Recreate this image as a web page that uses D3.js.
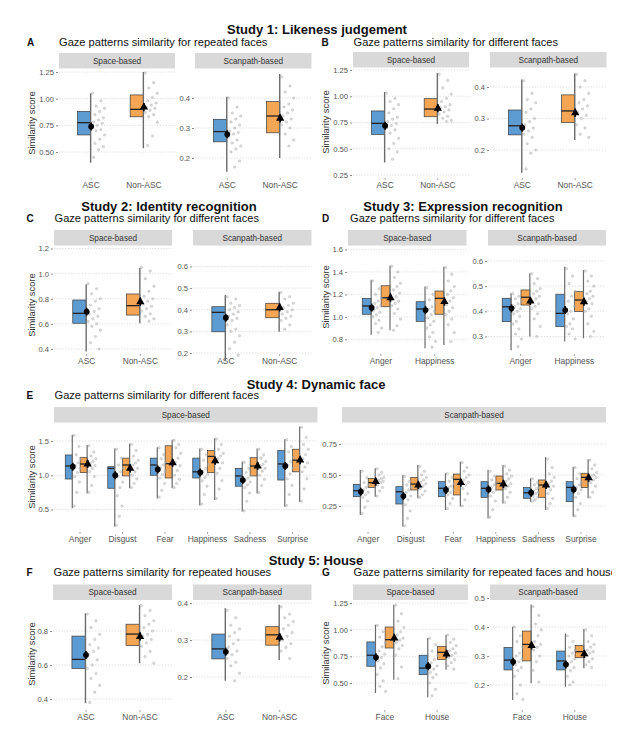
<!DOCTYPE html>
<html>
<head>
<meta charset="utf-8">
<script src="https://cdn.jsdelivr.net/npm/d3@7"></script>
<style>
  body { margin: 0; background: #fff; }
  svg text { font-family: "Liberation Sans", Arial, sans-serif; }
</style>
</head>
<body>
<svg id="fig" width="635" height="729"></svg>
<script>
// categories
const groups = ["ASC", "Non-ASC"];
const emoD = ["Anger", "Happiness"];
const emoE = ["Anger", "Disgust", "Fear", "Happiness", "Sadness", "Surprise"];
const stimG = ["Face", "House"];

// box stats: [min, q1, median, q3, max, mean]; rows = ASC, Non-ASC (per category)
const A_space_stats = [[0.40,0.66,0.775,0.88,1.05,0.74],[0.535,0.83,0.90,1.035,1.25,0.92]];
const A_scan_stats = [[0.154,0.254,0.288,0.329,0.404,0.279],[0.20,0.284,0.34,0.388,0.48,0.332]];
const B_space_stats = [[0.37,0.637,0.742,0.86,1.04,0.72],[0.736,0.805,0.878,0.977,1.22,0.885]];
const B_scan_stats = [[0.128,0.248,0.277,0.327,0.424,0.271],[0.232,0.287,0.324,0.375,0.443,0.318]];
const C_space_stats = [[0.38,0.605,0.684,0.79,0.915,0.697],[0.605,0.67,0.745,0.838,1.047,0.776]];
const C_scan_stats = [[0.165,0.298,0.388,0.414,0.468,0.363],[0.298,0.363,0.40,0.43,0.483,0.41]];
const D_space_stats = [[0.84,1.023,1.097,1.165,1.33,1.082],[0.88,1.09,1.17,1.277,1.456,1.17],
  [0.72,0.96,1.07,1.135,1.27,1.06],[0.75,1.023,1.165,1.23,1.447,1.135]];
const D_scan_stats = [[0.245,0.359,0.418,0.452,0.472,0.412],[0.30,0.425,0.456,0.485,0.551,0.441],
  [0.28,0.339,0.392,0.468,0.577,0.405],[0.293,0.399,0.445,0.478,0.564,0.438]];
const E_space_stats = [
  [0.52,0.945,1.135,1.296,1.59,1.125],[0.735,1.038,1.164,1.262,1.44,1.164],
  [0.25,0.81,1.10,1.125,1.39,1.0],[0.81,0.99,1.15,1.25,1.465,1.10],
  [0.66,1.0,1.15,1.25,1.41,1.085],[0.81,0.96,1.17,1.43,1.52,1.18],
  [0.56,0.96,1.05,1.25,1.39,1.04],[0.64,1.04,1.275,1.36,1.54,1.21],
  [0.47,0.84,0.99,1.10,1.20,0.93],[0.735,0.99,1.135,1.256,1.39,1.135],
  [0.54,0.93,1.165,1.36,1.525,1.135],[0.61,1.05,1.22,1.38,1.71,1.22]];
const E_scan_stats = [
  [0.177,0.325,0.373,0.425,0.54,0.365],[0.325,0.40,0.438,0.473,0.554,0.446],
  [0.083,0.266,0.365,0.406,0.50,0.33],[0.312,0.379,0.427,0.481,0.58,0.419],
  [0.218,0.325,0.393,0.446,0.514,0.379],[0.245,0.339,0.465,0.508,0.607,0.438],
  [0.15,0.32,0.393,0.446,0.54,0.384],[0.27,0.379,0.433,0.492,0.58,0.427],
  [0.285,0.312,0.357,0.398,0.473,0.357],[0.218,0.32,0.419,0.46,0.643,0.419],
  [0.164,0.285,0.40,0.446,0.567,0.384],[0.312,0.398,0.481,0.514,0.627,0.478]];
const F_space_stats = [[0.375,0.58,0.633,0.77,0.904,0.659],[0.61,0.714,0.782,0.84,0.953,0.767]];
const F_scan_stats = [[0.19,0.249,0.276,0.316,0.386,0.268],[0.246,0.286,0.314,0.336,0.395,0.307]];
const G_space_stats = [[0.406,0.657,0.76,0.885,1.047,0.741],[0.53,0.828,0.906,1.025,1.234,0.922],
  [0.366,0.578,0.64,0.76,0.922,0.657],[0.625,0.719,0.788,0.844,0.953,0.772]];
const G_scan_stats = [[0.148,0.252,0.286,0.329,0.401,0.28],[0.206,0.283,0.34,0.386,0.478,0.336],
  [0.194,0.252,0.283,0.317,0.378,0.271],[0.258,0.294,0.315,0.336,0.393,0.307]];

// individual participant scores (same row order as the stats)
const A_space_pts = [[1.05,0.98,0.93,0.91,0.88,0.85,0.82,0.80,0.78,0.77,0.75,0.73,0.71,0.70,0.66,0.62,0.58,0.55,0.52,0.45],
  [1.24,1.15,1.10,1.05,1.01,0.98,0.96,0.94,0.92,0.91,0.89,0.87,0.85,0.83,0.78,0.65,0.56]];
const A_scan_pts = [[0.40,0.37,0.35,0.34,0.33,0.32,0.31,0.30,0.29,0.285,0.28,0.27,0.26,0.25,0.24,0.23,0.22,0.19,0.17],
  [0.47,0.44,0.42,0.40,0.38,0.37,0.36,0.35,0.34,0.33,0.32,0.31,0.30,0.28,0.26,0.24]];
const B_space_pts = [[1.03,0.98,0.95,0.92,0.88,0.84,0.80,0.78,0.76,0.74,0.72,0.70,0.68,0.65,0.60,0.55,0.50,0.47,0.40],
  [1.21,1.15,1.08,1.02,0.98,0.95,0.92,0.90,0.89,0.87,0.85,0.83,0.81,0.79,0.77,0.76]];
const B_scan_pts = [[0.42,0.38,0.36,0.35,0.33,0.32,0.30,0.29,0.28,0.27,0.26,0.25,0.24,0.22,0.20,0.19,0.14],
  [0.44,0.42,0.40,0.38,0.36,0.35,0.34,0.33,0.32,0.31,0.30,0.28,0.27,0.25,0.24]];
const C_space_pts = [[0.92,0.88,0.84,0.80,0.78,0.75,0.72,0.70,0.68,0.66,0.64,0.62,0.60,0.58,0.55,0.50,0.45,0.40],
  [1.05,1.02,0.96,0.90,0.86,0.82,0.80,0.78,0.76,0.74,0.72,0.70,0.68,0.66,0.64,0.62]];
const C_scan_pts = [[0.46,0.45,0.43,0.42,0.41,0.40,0.39,0.38,0.37,0.36,0.35,0.33,0.31,0.30,0.28,0.25,0.22,0.19],
  [0.48,0.46,0.45,0.43,0.42,0.41,0.40,0.39,0.38,0.37,0.36,0.35,0.33,0.31]];
const D_space_pts = [
  [1.32,1.25,1.20,1.17,1.14,1.12,1.10,1.08,1.06,1.04,1.02,1.00,0.97,0.94,0.90,0.86],
  [1.45,1.40,1.35,1.30,1.27,1.24,1.21,1.18,1.16,1.14,1.12,1.10,1.07,1.03,0.98,0.92,0.88],
  [1.26,1.20,1.15,1.12,1.09,1.07,1.05,1.02,0.99,0.96,0.93,0.90,0.86,0.82,0.78,0.73],
  [1.44,1.38,1.32,1.27,1.23,1.20,1.17,1.14,1.11,1.08,1.05,1.02,0.98,0.93,0.86,0.78]];
const D_scan_pts = [
  [0.47,0.46,0.45,0.44,0.43,0.42,0.41,0.40,0.39,0.38,0.36,0.35,0.33,0.31,0.29,0.26],
  [0.55,0.53,0.51,0.49,0.48,0.47,0.46,0.45,0.44,0.43,0.42,0.41,0.39,0.37,0.34,0.30],
  [0.57,0.54,0.51,0.48,0.46,0.44,0.42,0.40,0.39,0.37,0.35,0.34,0.33,0.31,0.29],
  [0.56,0.54,0.52,0.50,0.48,0.47,0.46,0.45,0.44,0.43,0.41,0.40,0.38,0.35,0.32,0.30]];
const E_space_pts = [
  [1.58,1.42,1.30,1.24,1.18,1.14,1.10,1.04,0.98,0.90,0.75,0.55],
  [1.43,1.34,1.28,1.24,1.20,1.17,1.14,1.10,1.05,0.98,0.85,0.75],
  [1.38,1.25,1.15,1.10,1.05,0.98,0.90,0.82,0.70,0.55,0.40,0.27],
  [1.45,1.36,1.28,1.22,1.18,1.15,1.10,1.05,1.00,0.95,0.88,0.82],
  [1.40,1.30,1.24,1.19,1.15,1.11,1.06,1.01,0.96,0.88,0.78,0.68],
  [1.51,1.45,1.40,1.32,1.25,1.19,1.14,1.07,1.00,0.94,0.88,0.82],
  [1.38,1.30,1.22,1.16,1.10,1.05,1.01,0.97,0.92,0.84,0.72,0.58],
  [1.53,1.45,1.38,1.32,1.28,1.24,1.18,1.10,1.03,0.92,0.80,0.66],
  [1.19,1.10,1.04,1.00,0.96,0.93,0.90,0.86,0.82,0.74,0.62,0.48],
  [1.38,1.30,1.25,1.20,1.16,1.13,1.10,1.06,1.00,0.94,0.85,0.75],
  [1.52,1.42,1.34,1.26,1.20,1.15,1.10,1.02,0.95,0.85,0.72,0.56],
  [1.70,1.55,1.45,1.38,1.30,1.24,1.18,1.12,1.05,0.95,0.80,0.62]];
const E_scan_pts = [
  [0.53,0.48,0.44,0.42,0.40,0.38,0.36,0.34,0.32,0.29,0.24,0.19],
  [0.55,0.52,0.50,0.48,0.47,0.46,0.45,0.44,0.42,0.40,0.37,0.33],
  [0.49,0.45,0.42,0.40,0.38,0.36,0.33,0.30,0.26,0.21,0.15,0.09],
  [0.57,0.53,0.50,0.48,0.46,0.44,0.43,0.41,0.39,0.37,0.34,0.32],
  [0.51,0.48,0.45,0.43,0.41,0.40,0.38,0.36,0.34,0.31,0.27,0.23],
  [0.60,0.56,0.53,0.50,0.48,0.46,0.44,0.42,0.39,0.35,0.30,0.25],
  [0.53,0.49,0.46,0.44,0.42,0.40,0.38,0.36,0.33,0.29,0.22,0.16],
  [0.57,0.54,0.51,0.49,0.47,0.45,0.43,0.41,0.39,0.36,0.32,0.28],
  [0.47,0.44,0.42,0.40,0.39,0.37,0.36,0.35,0.33,0.32,0.30,0.29],
  [0.63,0.56,0.51,0.48,0.45,0.43,0.41,0.38,0.35,0.31,0.27,0.23],
  [0.56,0.51,0.47,0.44,0.42,0.40,0.38,0.35,0.32,0.27,0.22,0.17],
  [0.62,0.58,0.55,0.52,0.50,0.49,0.48,0.46,0.44,0.41,0.36,0.32]];
const F_space_pts = [[0.90,0.86,0.82,0.78,0.75,0.72,0.70,0.68,0.66,0.63,0.60,0.58,0.55,0.52,0.48,0.44,0.38],
  [0.95,0.92,0.89,0.86,0.84,0.82,0.80,0.78,0.77,0.75,0.73,0.71,0.68,0.65,0.61]];
const F_scan_pts = [[0.38,0.36,0.34,0.33,0.32,0.31,0.30,0.29,0.28,0.27,0.26,0.25,0.24,0.23,0.21,0.19],
  [0.39,0.37,0.36,0.35,0.34,0.33,0.32,0.31,0.30,0.29,0.28,0.27,0.25]];
const G_space_pts = [
  [1.04,0.98,0.93,0.88,0.84,0.80,0.77,0.74,0.71,0.68,0.64,0.58,0.52,0.47,0.42],
  [1.23,1.15,1.08,1.02,0.98,0.95,0.92,0.90,0.88,0.85,0.82,0.76,0.65,0.54],
  [0.92,0.86,0.80,0.76,0.72,0.69,0.66,0.63,0.60,0.58,0.55,0.50,0.44,0.38],
  [0.95,0.91,0.88,0.85,0.82,0.80,0.78,0.76,0.74,0.72,0.69,0.66,0.63]];
const G_scan_pts = [
  [0.40,0.37,0.35,0.33,0.31,0.30,0.29,0.28,0.27,0.26,0.25,0.23,0.20,0.17,0.15],
  [0.47,0.44,0.41,0.39,0.37,0.35,0.34,0.33,0.32,0.30,0.28,0.25,0.21],
  [0.37,0.35,0.33,0.32,0.31,0.30,0.29,0.28,0.27,0.26,0.25,0.23,0.21,0.20],
  [0.39,0.37,0.35,0.34,0.33,0.32,0.315,0.31,0.30,0.29,0.28,0.27,0.26]];

// y ticks
const ticksA1 = [0.5, 0.75, 1.0, 1.25], ticksA2 = [0.2, 0.3, 0.4];
const ticksB1 = [0.25, 0.5, 0.75, 1.0, 1.25], ticksB2 = [0.2, 0.3, 0.4];
const ticksC1 = [0.4, 0.6, 0.8, 1.0, 1.2], ticksC2 = [0.2, 0.3, 0.4, 0.5, 0.6];
const ticksD1 = [0.8, 1.0, 1.2, 1.4, 1.6], ticksD2 = [0.3, 0.4, 0.5, 0.6];
const ticksE1 = [0.5, 1.0, 1.5], ticksE2 = [0.25, 0.5, 0.75];
const ticksF1 = [0.4, 0.6, 0.8], ticksF2 = [0.2, 0.3, 0.4];
const ticksG1 = [0.5, 0.75, 1.0, 1.25], ticksG2 = [0.2, 0.3, 0.4, 0.5];

const fill = {"ASC": "#5d9cd2", "Non-ASC": "#f5a655"};

const svg = d3.select("#fig");

function drawFacet(f) {
    let g = svg.append("g");
    // strip
    g.append("rect").attr("x", f.x0).attr("y", f.sy).attr("width", f.x1 - f.x0).attr("height", 15.5)
        .attr("fill", "#d9d9d9");
    g.append("text").attr("x", (f.x0 + f.x1) / 2).attr("y", f.sy + 10.9)
        .attr("text-anchor", "middle").style("font-size", "8.2px").style("fill", "#333")
        .text(f.strip);

    let y = d3.scaleLinear()
        .domain([f.ticks[0], f.ticks[f.ticks.length - 1]])
        .range(f.tpix);

    let x = d3.scalePoint().domain(f.cats).range([f.x0, f.x1]).padding(0.6);
    let step = x.step();

    // grid
    g.selectAll(".grid").data(f.ticks).enter().append("line")
        .attr("x1", f.x0).attr("x2", f.x1)
        .attr("y1", d => y(d)).attr("y2", d => y(d))
        .attr("stroke", "#d4d4d4").attr("stroke-width", 0.8).attr("stroke-dasharray", "1.2,1.6");

    // y axis
    let ax = g.append("g").attr("transform", "translate(" + (f.x0 - 1) + ",0)")
        .call(d3.axisLeft(y).tickValues(f.ticks).tickFormat(d3.format(f.fmt)).tickSize(2).tickPadding(2));
    ax.select(".domain").remove();
    ax.selectAll("line").attr("stroke", "#555").attr("stroke-width", 0.7);
    ax.selectAll("text").style("font-size", "7.6px").style("fill", "#555")
        .style("font-family", "'Liberation Sans', Arial, sans-serif");

    // x axis
    let xa = g.append("g").attr("transform", "translate(0," + (f.ly - 9.8) + ")")
        .call(d3.axisBottom(x).tickSize(1.5).tickPadding(2));
    xa.select(".domain").remove();
    xa.selectAll("line").attr("stroke", "#555").attr("stroke-width", 0.7);
    xa.selectAll("text").style("font-size", "8.4px").style("fill", "#555")
        .style("font-family", "'Liberation Sans', Arial, sans-serif");

    // boxes
    let rows = f.stats.map((s, i) => {
        let grp = f.single ? f.cats[i] : groups[i % 2];
        let cat = f.single ? f.cats[i] : f.cats[Math.floor(i / 2)];
        let cx;
        if (f.single) cx = x(cat);
        else cx = x(cat) + (i % 2 === 0 ? -0.17 : 0.18) * step;
        return {s: s, pts: f.pts[i], grp: grp, cx: cx};
    });
    let bw = f.single ? 0.25 * step : 0.165 * step;
    let jw = f.single ? 0.23 * step : 0.16 * step;

    rows.forEach(r => {
        let s = r.s;
        g.append("rect").attr("x", r.cx - bw).attr("width", bw)
            .attr("y", y(s[3])).attr("height", y(s[1]) - y(s[3]))
            .attr("fill", fill[r.grp]).attr("stroke", "#3a3a3a").attr("stroke-width", 0.7);
        g.append("line").attr("x1", r.cx - bw).attr("x2", r.cx)
            .attr("y1", y(s[2])).attr("y2", y(s[2]))
            .attr("stroke", "#222").attr("stroke-width", 1.3);
    });
    rows.forEach(r => {
        g.append("line").attr("x1", r.cx).attr("x2", r.cx)
            .attr("y1", y(r.s[0])).attr("y2", y(r.s[4]))
            .attr("stroke", "#6b6b6b").attr("stroke-width", f.single ? 1.4 : 1.2);
    });
    rows.forEach(r => {
        g.selectAll(null).data(r.pts).enter().append("circle")
            .attr("cx", (d, i) => r.cx + 1.8 + ((i * 7) % 11) / 10 * jw)
            .attr("cy", d => y(d))
            .attr("r", 1.3)
            .attr("fill", "#b5b5b5").attr("fill-opacity", 0.5)
            .attr("stroke", "#9a9a9a").attr("stroke-width", 0.4).attr("stroke-opacity", 0.55);
    });
    rows.forEach(r => {
        let m = y(r.s[5]);
        g.append("line").attr("x1", r.cx + 0.5).attr("x2", r.cx + 0.5)
            .attr("y1", m - 4).attr("y2", m + 4)
            .attr("stroke", "#000").attr("stroke-width", 1.6);
        if (r.grp === "ASC") {
            g.append("circle").attr("cx", r.cx + 0.5).attr("cy", m).attr("r", 2.9).attr("fill", "#000");
        } else {
            g.append("path").attr("d", d3.symbol(d3.symbolTriangle, 30)())
                .attr("transform", "translate(" + (r.cx + 0.5) + "," + m + ")").attr("fill", "#000");
        }
    });
}

function label(x, y, txt, size, weight, anchor) {
    return svg.append("text").attr("x", x).attr("y", y).attr("text-anchor", anchor || "start")
        .style("font-size", size + "px").style("font-weight", weight || "normal").style("fill", "#111")
        .text(txt);
}

function yTitle(x, y) {
    svg.append("text").attr("transform", "translate(" + x + "," + y + ") rotate(-90)")
        .attr("dy", "0.35em").attr("text-anchor", "middle")
        .style("font-size", "9.4px").style("fill", "#333").text("Similarity score");
}

// titles
label(317, 33.5, "Study 1: Likeness judgement", 13, "bold", "middle");
label(169, 210.5, "Study 2: Identity recognition", 13, "bold", "middle");
label(463, 210.5, "Study 3: Expression recognition", 13, "bold", "middle");
label(316, 388.5, "Study 4: Dynamic face", 13, "bold", "middle");
label(316, 564.5, "Study 5: House", 13, "bold", "middle");

const sub = 11.1;
label(27, 46, "A", 10, "bold"); label(59, 46, "Gaze patterns similarity for repeated faces", sub);
label(321.5, 46, "B", 10, "bold"); label(353.5, 46, "Gaze patterns similarity for different faces", sub);
label(26.5, 222, "C", 10, "bold"); label(54.5, 222, "Gaze patterns similarity for different faces", sub);
label(322, 222, "D", 10, "bold"); label(350, 222, "Gaze patterns similarity for different faces", sub);
label(26.5, 399, "E", 10, "bold"); label(54.5, 399, "Gaze patterns similarity for different faces", sub);
label(26.5, 576, "F", 10, "bold"); label(53.5, 576, "Gaze patterns similarity for repeated houses", sub);
label(322, 576, "G", 10, "bold");
svg.append("clipPath").attr("id", "cut").append("rect").attr("x", 340).attr("y", 560).attr("width", 272).attr("height", 30);
label(353.5, 576, "Gaze patterns similarity for repeated faces and houses", sub).attr("clip-path", "url(#cut)");

yTitle(31.5, 123); yTitle(326, 122);
yTitle(31.5, 305); yTitle(326, 297);
yTitle(31.5, 477);
yTitle(31.5, 654); yTitle(326, 653);

const facets = [
  {strip: "Space-based", x0: 59, x1: 175, sy: 53, ly: 188, ticks: ticksA1, tpix: [152, 72], fmt: ".2f", cats: groups, single: true, stats: A_space_stats, pts: A_space_pts},
  {strip: "Scanpath-based", x0: 195, x1: 311.5, sy: 53, ly: 188, ticks: ticksA2, tpix: [158, 98], fmt: ".1f", cats: groups, single: true, stats: A_scan_stats, pts: A_scan_pts},
  {strip: "Space-based", x0: 353, x1: 469, sy: 52, ly: 188, ticks: ticksB1, tpix: [175, 70], fmt: ".2f", cats: groups, single: true, stats: B_space_stats, pts: B_space_pts},
  {strip: "Scanpath-based", x0: 490, x1: 606.5, sy: 52, ly: 188, ticks: ticksB2, tpix: [150, 87], fmt: ".1f", cats: groups, single: true, stats: B_scan_stats, pts: B_scan_pts},
  {strip: "Space-based", x0: 54, x1: 172, sy: 230, ly: 364, ticks: ticksC1, tpix: [349, 248.5], fmt: ".1f", cats: groups, single: true, stats: C_space_stats, pts: C_space_pts},
  {strip: "Scanpath-based", x0: 193, x1: 311.5, sy: 230, ly: 364, ticks: ticksC2, tpix: [353, 266.5], fmt: ".1f", cats: groups, single: true, stats: C_scan_stats, pts: C_scan_pts},
  {strip: "Space-based", x0: 348, x1: 466.5, sy: 230, ly: 364, ticks: ticksD1, tpix: [339.3, 249.5], fmt: ".1f", cats: emoD, single: false, stats: D_space_stats, pts: D_space_pts},
  {strip: "Scanpath-based", x0: 488, x1: 606, sy: 230, ly: 364, ticks: ticksD2, tpix: [336.5, 261], fmt: ".1f", cats: emoD, single: false, stats: D_scan_stats, pts: D_scan_pts},
  {strip: "Space-based", x0: 54, x1: 317.5, sy: 407, ly: 542, ticks: ticksE1, tpix: [509.5, 441], fmt: ".1f", cats: emoE, single: false, stats: E_space_stats, pts: E_space_pts},
  {strip: "Scanpath-based", x0: 342, x1: 606, sy: 407, ly: 542, ticks: ticksE2, tpix: [506, 444], fmt: ".2f", cats: emoE, single: false, stats: E_scan_stats, pts: E_scan_pts},
  {strip: "Space-based", x0: 53, x1: 172, sy: 584.5, ly: 720, ticks: ticksF1, tpix: [699, 631], fmt: ".1f", cats: groups, single: true, stats: F_space_stats, pts: F_space_pts},
  {strip: "Scanpath-based", x0: 193, x1: 311.5, sy: 584.5, ly: 720, ticks: ticksF2, tpix: [677, 603], fmt: ".1f", cats: groups, single: true, stats: F_scan_stats, pts: F_scan_pts},
  {strip: "Space-based", x0: 353, x1: 468, sy: 584.5, ly: 720, ticks: ticksG1, tpix: [683, 603], fmt: ".2f", cats: stimG, single: false, stats: G_space_stats, pts: G_space_pts},
  {strip: "Scanpath-based", x0: 490, x1: 606, sy: 584.5, ly: 720, ticks: ticksG2, tpix: [685, 598], fmt: ".1f", cats: stimG, single: false, stats: G_scan_stats, pts: G_scan_pts}
];

facets.forEach(drawFacet);
</script>
</body>
</html>
